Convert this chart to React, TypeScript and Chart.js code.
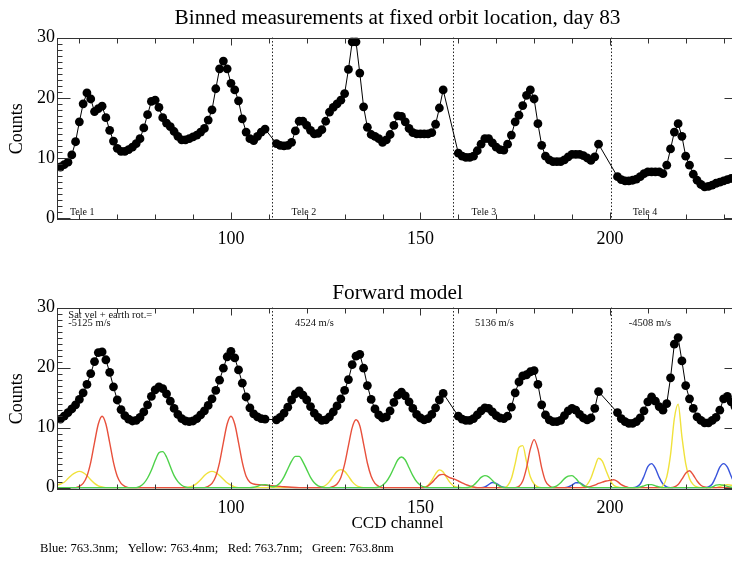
import React, { useEffect, useRef } from 'react';
import { Chart, registerables } from 'chart.js';

Chart.register(...registerables);

const SERIF = '"Liberation Serif", "Times New Roman", Times, serif';

// ---------- data ----------
const TOP_TITLE = 'Binned measurements at fixed orbit location, day 83';
const BOTTOM_TITLE = 'Forward model';
const X_TITLE = 'CCD channel';
const Y_TITLE = 'Counts';
const FOOTNOTE = 'Blue: 763.3nm;   Yellow: 763.4nm;   Red: 763.7nm;   Green: 763.8nm';

const X_MIN = 54.1;
const X_MAX = 233.8;
const X_LABEL_TICKS = [100, 150, 200];
const Y_LABEL_TICKS = [0, 10, 20, 30];

const TELE_STARTS = [55, 112, 160, 202];
const TELE_BOUNDARIES = [110.8, 158.6, 200.2];
const TELE_NAMES = ['Tele 1', 'Tele 2', 'Tele 3', 'Tele 4'];
const TELE_NAME_CHANNELS = [57.5, 116, 163.5, 206];
const VELOCITY_LABELS = ['-5125 m/s', '4524 m/s', '5136 m/s', '-4508 m/s'];
const VELOCITY_CHANNELS = [57.1, 116.9, 164.4, 205.0];
const VELOCITY_HEADER = 'Sat vel + earth rot.=';

const measuredTele1 = [8.5, 8.9, 9.3, 10.5, 12.7, 16.0, 19.0, 20.8, 19.8, 17.7, 18.2, 18.6, 16.7, 14.6, 12.8, 11.6, 11.1, 11.1, 11.4, 11.8, 12.4, 13.2, 15.0, 17.2, 19.4, 19.6, 18.4, 16.7, 15.8, 15.2, 14.4, 13.6, 13.0, 13.0, 13.2, 13.5, 13.8, 14.3, 14.9, 16.3, 18.0, 21.5, 24.8, 26.1, 24.8, 22.4, 21.3, 19.5, 16.5, 14.3, 13.2, 12.9, 13.6, 14.3, 14.8];
const measuredTele2 = [12.4, 12.1, 12.0, 12.1, 12.6, 14.5, 16.1, 16.1, 15.4, 14.6, 14.0, 14.1, 14.7, 16.1, 17.6, 18.4, 19.0, 19.6, 20.7, 24.7, 29.3, 29.3, 24.1, 18.5, 15.1, 13.9, 13.6, 13.2, 12.6, 13.0, 13.9, 15.4, 17.0, 16.9, 16.0, 14.9, 14.2, 14.0, 14.0, 14.0, 14.0, 14.2, 15.6, 18.3, 21.3];
const measuredTele3 = [10.8, 10.3, 10.1, 10.1, 10.3, 11.2, 12.3, 13.2, 13.2, 12.5, 11.8, 11.4, 11.3, 12.3, 13.8, 16.0, 17.1, 18.7, 20.4, 21.3, 19.8, 15.7, 12.1, 10.3, 9.7, 9.4, 9.4, 9.4, 9.7, 10.2, 10.6, 10.6, 10.6, 10.4, 10.0, 9.6, 10.2, 12.3];
const measuredTele4 = [6.9, 6.4, 6.2, 6.2, 6.3, 6.5, 6.9, 7.4, 7.7, 7.7, 7.7, 7.7, 7.4, 8.8, 11.5, 14.3, 15.7, 13.6, 10.3, 8.8, 7.3, 6.3, 5.6, 5.2, 5.3, 5.5, 5.8, 6.0, 6.2, 6.4, 6.6, 6.4];

const modelTele1 = [11.4, 11.9, 12.5, 13.1, 13.8, 14.7, 15.8, 17.2, 19.0, 21.0, 22.5, 22.6, 21.3, 19.2, 16.8, 14.6, 13.0, 12.0, 11.4, 11.1, 11.2, 11.7, 12.6, 13.8, 15.2, 16.3, 16.8, 16.5, 15.6, 14.4, 13.2, 12.2, 11.5, 11.1, 11.0, 11.1, 11.5, 12.1, 12.8, 13.7, 14.8, 16.2, 17.9, 19.9, 21.8, 22.7, 21.6, 19.6, 17.4, 15.1, 13.3, 12.3, 11.8, 11.5, 11.4];
const modelTele2 = [11.3, 11.7, 12.4, 13.4, 14.6, 15.6, 16.1, 15.4, 14.6, 13.5, 12.4, 11.7, 11.2, 11.3, 11.8, 12.6, 13.6, 14.8, 16.2, 18.0, 20.5, 21.9, 22.2, 19.9, 17.0, 14.7, 13.1, 12.1, 11.6, 11.8, 12.8, 14.2, 15.4, 15.9, 15.3, 14.3, 13.2, 12.2, 11.6, 11.3, 11.5, 12.2, 13.3, 14.6, 15.7];
const modelTele3 = [11.9, 11.4, 11.2, 11.2, 11.5, 12.1, 12.8, 13.3, 13.2, 12.6, 12.0, 11.6, 11.5, 11.9, 13.4, 15.8, 17.6, 18.6, 18.8, 19.3, 19.5, 17.2, 13.8, 12.1, 11.3, 11.0, 11.0, 11.2, 12.0, 12.8, 13.2, 12.9, 12.2, 11.6, 11.3, 11.6, 13.2, 16.0];
const modelTele4 = [12.5, 11.5, 11.0, 10.7, 10.7, 11.0, 11.6, 12.8, 14.3, 15.1, 14.4, 13.5, 12.9, 14.0, 18.3, 23.9, 25.0, 21.1, 17.0, 14.8, 13.2, 11.8, 11.2, 10.8, 10.8, 11.2, 11.7, 12.9, 14.8, 15.2, 14.3, 13.5];

// [channel, counts]
const redLine: [number, number][] = [
  [54, 0], [59, 0], [60, 0.2], [61, 0.7], [62, 1.9], [63, 4.2], [64, 7.5], [65, 10.6], [66, 11.9], [67, 10.6], [68, 7.5], [69, 4.2], [70, 1.9], [71, 0.7], [72, 0.2], [73, 0],
  [93, 0], [94, 0.2], [95, 0.7], [96, 1.9], [97, 4.2], [98, 7.5], [99, 10.6], [100, 11.9], [101, 10.6], [102, 7.5], [103, 4.2], [104, 1.9], [105, 0.9], [106, 0.6], [108, 0.45], [110, 0.35], [113, 0.2], [116, 0.05], [118, 0],
  [126, 0], [127, 0.2], [128, 0.6], [129, 1.7], [130, 3.9], [131, 7.0], [132, 10.0], [133, 11.3], [134, 10.3], [135, 7.3], [136, 4.1], [137, 1.9], [138, 0.7], [139, 0.2], [140, 0],
  [151, 0], [152, 0.3], [153, 0.8], [154, 1.5], [155, 2.1], [156, 2.2], [157, 1.9], [158, 1.6], [159, 1.4], [160, 1.1], [161, 0.8], [162, 0.5], [163, 0.3], [164, 0.1], [165, 0],
  [175, 0], [176, 0.2], [177, 1.1], [178, 3.3], [179, 6.4], [180, 8.0], [181, 6.4], [182, 3.3], [183, 1.1], [184, 0.3], [185, 0],
  [193, 0], [194, 0.05], [195, 0.2], [196, 0.4], [197, 0.7], [198, 0.9], [199, 1.1], [200, 1.2], [201, 1.3], [202, 1.0], [203, 0.5], [204, 0.2], [205, 0],
  [216, 0], [217, 0.1], [218, 0.5], [219, 1.4], [220, 2.4], [221, 2.8], [222, 2.1], [223, 1.1], [224, 0.4], [225, 0.1], [226, 0], [234, 0],
];
const yellowLine: [number, number][] = [
  [54, 0.4], [55, 0.6], [56, 0.9], [57, 1.5], [58, 2.1], [59, 2.5], [60, 2.7], [61, 2.5], [62, 2.0], [63, 1.3], [64, 0.7], [65, 0.3], [66, 0.1], [67, 0],
  [88, 0], [89, 0.1], [90, 0.3], [91, 0.7], [92, 1.3], [93, 2.0], [94, 2.5], [95, 2.7], [96, 2.5], [97, 2.0], [98, 1.4], [99, 0.8], [100, 0.4], [101, 0.1], [102, 0],
  [123, 0], [124, 0.1], [125, 0.4], [126, 1.0], [127, 1.9], [128, 2.7], [129, 3.0], [130, 2.7], [131, 1.9], [132, 1.0], [133, 0.4], [134, 0.1], [135, 0],
  [150, 0], [151, 0.05], [152, 0.4], [153, 1.2], [154, 2.3], [155, 2.95], [156, 2.6], [157, 1.6], [158, 0.7], [159, 0.2], [160, 0.05], [161, 0],
  [172, 0], [173, 0.3], [174, 1.5], [175, 4.0], [176, 6.7], [177, 7.0], [178, 4.3], [179, 1.8], [180, 0.6], [181, 0.1], [182, 0],
  [192, 0], [193, 0.1], [194, 0.5], [195, 1.6], [196, 3.4], [197, 4.9], [198, 4.4], [199, 2.8], [200, 1.3], [201, 0.4], [202, 0.1], [203, 0],
  [213, 0], [214, 0.3], [215, 1.8], [216, 5.5], [217, 11.5], [218, 13.9], [219, 8.5], [220, 4.0], [221, 1.5], [222, 0.5], [223, 0.1], [224, 0],
  [228, 0], [229, 0.2], [230, 0.4], [231, 0.5], [232, 0.4], [233, 0.3], [234, 0.2],
];
const greenLine: [number, number][] = [
  [54, 0], [75, 0], [76, 0.2], [77, 0.7], [78, 1.6], [79, 2.9], [80, 4.5], [81, 5.8], [82, 6.0], [83, 5.1], [84, 3.5], [85, 2.0], [86, 1.0], [87, 0.4], [88, 0.1], [89, 0],
  [105, 0], [106, 0.05], [107, 0.2], [108, 0.45], [109, 0.5], [110, 0.35], [111, 0.15], [112, 0.3], [113, 0.8], [114, 1.8], [115, 3.1], [116, 4.4], [117, 5.2], [118, 5.2], [119, 4.3], [120, 3.0], [121, 1.7], [122, 0.8], [123, 0.3], [124, 0.1], [125, 0],
  [138, 0], [139, 0.1], [140, 0.4], [141, 1.0], [142, 2.0], [143, 3.3], [144, 4.6], [145, 5.1], [146, 4.6], [147, 3.3], [148, 2.0], [149, 1.0], [150, 0.4], [151, 0.1], [152, 0],
  [162, 0], [163, 0.1], [164, 0.4], [165, 1.0], [166, 1.7], [167, 2.0], [168, 1.8], [169, 1.2], [170, 0.6], [171, 0.2], [172, 0],
  [184, 0], [185, 0.05], [186, 0.3], [187, 0.8], [188, 1.5], [189, 1.9], [190, 2.0], [191, 1.5], [192, 0.8], [193, 0.3], [194, 0.1], [195, 0],
  [207, 0], [208, 0.1], [209, 0.3], [210, 0.5], [211, 0.5], [212, 0.3], [213, 0.1], [214, 0],
  [226, 0], [227, 0.1], [228, 0.4], [229, 0.5], [230, 0.4], [231, 0.2], [232, 0.05], [233, 0], [234, 0],
];
const blueLine: [number, number][] = [
  [54, 0], [166, 0], [167, 0.1], [168, 0.5], [169, 0.85], [170, 0.7], [171, 0.3], [172, 0.05], [173, 0],
  [188, 0], [189, 0.1], [190, 0.4], [191, 0.8], [192, 0.8], [193, 0.4], [194, 0.1], [195, 0],
  [206, 0], [207, 0.1], [208, 0.6], [209, 1.9], [210, 3.5], [211, 4.0], [212, 3.2], [213, 1.7], [214, 0.6], [215, 0.1], [216, 0],
  [225, 0], [226, 0.1], [227, 0.6], [228, 1.9], [229, 3.4], [230, 4.0], [231, 3.4], [232, 1.9], [233, 0.6], [234, 0.1],
];

// ---------- helpers ----------
function segmentsToPoints(starts: number[], segs: number[][]) {
  const pts: { x: number; y: number }[] = [];
  segs.forEach((seg, i) => seg.forEach((v, j) => pts.push({ x: starts[i] + j, y: v })));
  return pts;
}
const pairsToPoints = (pairs: [number, number][]) => pairs.map(([x, y]) => ({ x, y }));

type DecorOpts = {
  showTeleNames: boolean;
  showVelocities: boolean;
  footnote?: string;
};

function makeDecor(o: DecorOpts) {
  return {
    id: 'decor',
    beforeDatasetsDraw(chart: any) {
      const { ctx, chartArea } = chart;
      const xs = chart.scales.x;
      ctx.save();
      ctx.strokeStyle = '#222';
      ctx.lineWidth = 1;
      ctx.setLineDash([1.5, 2]);
      TELE_BOUNDARIES.forEach((b) => {
        const px = Math.round(xs.getPixelForValue(b)) + 0.5;
        ctx.beginPath();
        ctx.moveTo(px, chartArea.top);
        ctx.lineTo(px, chartArea.bottom);
        ctx.stroke();
      });
      ctx.restore();
    },
    afterDatasetsDraw(chart: any) {
      const { ctx, chartArea } = chart;
      const { left, right, top, bottom } = chartArea;
      const xs = chart.scales.x;
      const ys = chart.scales.y;
      ctx.save();
      ctx.strokeStyle = '#333';
      ctx.lineWidth = 1;
      ctx.setLineDash([]);
      const L = Math.round(left) + 0.5;
      const R = Math.round(right) - 0.5;
      const T = Math.round(top) + 0.5;
      const B = Math.round(bottom) - 0.5;
      ctx.strokeRect(L, T, R - L, B - T);
      ctx.beginPath();
      for (let v = Math.ceil(X_MIN / 10) * 10; v <= X_MAX; v += 10) {
        const px = Math.round(xs.getPixelForValue(v)) + 0.5;
        const len = v % 50 === 0 ? 7 : 5;
        ctx.moveTo(px, B); ctx.lineTo(px, B - len);
        ctx.moveTo(px, T); ctx.lineTo(px, T + len);
      }
      for (let v = 0; v <= 30; v += 1) {
        const py = Math.round(ys.getPixelForValue(v)) + 0.5;
        const len = v % 10 === 0 ? 13 : 5;
        ctx.moveTo(L, py); ctx.lineTo(L + len, py);
        ctx.moveTo(R, py); ctx.lineTo(R - len, py);
      }
      ctx.stroke();

      ctx.fillStyle = '#111';
      ctx.textBaseline = 'middle';
      ctx.textAlign = 'left';
      if (o.showTeleNames) {
        ctx.font = `10px ${SERIF}`;
        TELE_NAMES.forEach((t, i) => {
          ctx.fillText(t, xs.getPixelForValue(TELE_NAME_CHANNELS[i]), ys.getPixelForValue(1.0));
        });
      }
      if (o.showVelocities) {
        ctx.font = `10.5px ${SERIF}`;
        ctx.fillText(VELOCITY_HEADER, xs.getPixelForValue(VELOCITY_CHANNELS[0]), ys.getPixelForValue(28.7));
        VELOCITY_LABELS.forEach((t, i) => {
          ctx.fillText(t, xs.getPixelForValue(VELOCITY_CHANNELS[i]), ys.getPixelForValue(27.35));
        });
      }
      if (o.footnote) {
        ctx.font = `12.6px ${SERIF}`;
        ctx.fillStyle = '#000';
        ctx.fillText(o.footnote, 40, chart.height - 19);
      }
      ctx.restore();
    },
  };
}

function baseOptions(opts: {
  title: string;
  titlePad: { top: number; bottom: number };
  yMin: number;
  xAxisHeight: number;
  xTickPad: number;
  xTitle?: string;
  xTitlePadBottom?: number;
}) {
  return {
    animation: false as const,
    responsive: false,
    devicePixelRatio: 1,
    layout: { padding: { left: 0, right: 7, top: 0, bottom: 0 } },
    plugins: {
      legend: { display: false },
      tooltip: { enabled: false },
      title: {
        display: true,
        fullSize: false,
        text: opts.title,
        color: '#000',
        font: { family: SERIF, size: 21.3, weight: 'normal' as const },
        padding: opts.titlePad,
      },
    },
    scales: {
      x: {
        type: 'linear' as const,
        min: X_MIN,
        max: X_MAX,
        grid: { display: false, drawTicks: false },
        border: { display: false },
        afterBuildTicks: (s: any) => { s.ticks = X_LABEL_TICKS.map((v) => ({ value: v })); },
        ticks: {
          autoSkip: false,
          maxRotation: 0,
          color: '#000',
          padding: opts.xTickPad,
          font: { family: SERIF, size: 18 },
          callback: (v: any) => String(v),
        },
        title: opts.xTitle
          ? {
              display: true,
              text: opts.xTitle,
              color: '#000',
              font: { family: SERIF, size: 17 },
              padding: { top: 0, bottom: opts.xTitlePadBottom ?? 0 },
            }
          : { display: false },
        afterFit: (s: any) => { s.height = opts.xAxisHeight; },
      },
      y: {
        type: 'linear' as const,
        min: opts.yMin,
        max: 30,
        grid: { display: false, drawTicks: false },
        border: { display: false },
        afterBuildTicks: (s: any) => { s.ticks = Y_LABEL_TICKS.map((v) => ({ value: v })); },
        ticks: {
          color: '#000',
          padding: 2,
          font: { family: SERIF, size: 18 },
          callback: (v: any) => String(v),
        },
        title: {
          display: true,
          text: Y_TITLE,
          color: '#000',
          font: { family: SERIF, size: 18 },
          padding: { top: 6, bottom: 0 },
        },
        afterFit: (s: any) => { s.width = 57; },
      },
    },
  };
}

export default function App() {
  const topRef = useRef<HTMLCanvasElement>(null);
  const botRef = useRef<HTMLCanvasElement>(null);

  useEffect(() => {
    const measured = segmentsToPoints(TELE_STARTS, [measuredTele1, measuredTele2, measuredTele3, measuredTele4]);
    const model = segmentsToPoints(TELE_STARTS, [modelTele1, modelTele2, modelTele3, modelTele4]);

    const dotStyle = {
      borderColor: '#000',
      borderWidth: 1,
      pointRadius: 4.4,
      pointBackgroundColor: '#000',
      pointBorderWidth: 0,
      pointHoverRadius: 4.4,
      tension: 0,
    };
    const curve = (color: string) => ({
      borderColor: color,
      borderWidth: 1.4,
      pointRadius: 0,
      cubicInterpolationMode: 'monotone' as const,
      fill: false,
    });

    const top = new Chart(topRef.current as HTMLCanvasElement, {
      type: 'line',
      data: { datasets: [{ data: measured, ...dotStyle }] },
      options: baseOptions({
        title: TOP_TITLE,
        titlePad: { top: 6, bottom: 6 },
        yMin: -0.3,
        xAxisHeight: 42,
        xTickPad: 8,
      }) as any,
      plugins: [makeDecor({ showTeleNames: true, showVelocities: false })],
    });

    const bottom = new Chart(botRef.current as HTMLCanvasElement, {
      type: 'line',
      data: {
        datasets: [
          { data: model, ...dotStyle },
          { data: pairsToPoints(greenLine), ...curve('#4ed24a') },
          { data: pairsToPoints(redLine), ...curve('#e8503c') },
          { data: pairsToPoints(yellowLine), ...curve('#f0e23c') },
          { data: pairsToPoints(blueLine), ...curve('#3a55dc') },
        ],
      },
      options: baseOptions({
        title: BOTTOM_TITLE,
        titlePad: { top: 19, bottom: 1 },
        yMin: -0.4,
        xAxisHeight: 78,
        xTickPad: 7,
        xTitle: X_TITLE,
        xTitlePadBottom: 34,
      }) as any,
      plugins: [makeDecor({ showTeleNames: false, showVelocities: true, footnote: FOOTNOTE })],
    });

    return () => {
      top.destroy();
      bottom.destroy();
    };
  }, []);

  return (
    <div style={{ position: 'fixed', left: 0, top: 0, width: 732, height: 568, overflow: 'hidden', background: '#fff' }}>
      <canvas ref={topRef} width={745} height={262} style={{ position: 'absolute', left: 0, top: 0 }} />
      <canvas ref={botRef} width={745} height={306} style={{ position: 'absolute', left: 0, top: 262 }} />
    </div>
  );
}
